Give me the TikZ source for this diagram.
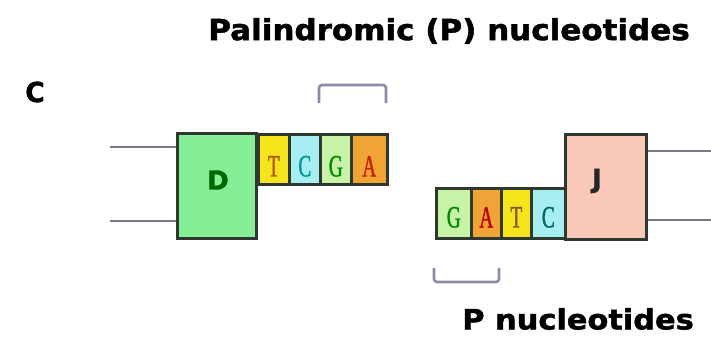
\documentclass[tikz,border=0pt]{standalone}
\usepackage{fontspec}
\setmainfont{DejaVu Sans}
\newfontfamily\seriff[FakeStretch=0.62,FakeBold=1.2]{Liberation Serif}
\newfontfamily\heavyfont[FakeBold=1.5]{DejaVu Sans Bold}
\definecolor{strandc}{HTML}{7A7A88}
\definecolor{edgec}{HTML}{2E382E}
\definecolor{dfill}{HTML}{86EE96}
\definecolor{jfill}{HTML}{F8C8B8}
\definecolor{tfill}{HTML}{F6E41C}
\definecolor{cfill}{HTML}{A6EEF2}
\definecolor{gfill}{HTML}{C8F2A8}
\definecolor{afill}{HTML}{F0A436}
\definecolor{brc}{HTML}{8C8CA6}
\tikzset{
  strand/.style={draw=strandc, line width=2.4pt},
  seg/.style={draw=edgec, line width=2.6pt},
  nt/.style={seg, minimum width=31pt, minimum height=50pt, inner sep=0pt, anchor=north west},
  ntl/.style={font=\seriff\fontsize{31}{31}\selectfont, inner sep=0pt},
  gene/.style={font=\heavyfont\fontsize{26}{26}\selectfont, inner sep=0pt},
  brk/.style={draw=brc, line width=2.6pt, rounded corners=3pt},
  lab/.style={font=\heavyfont, inner sep=0pt}
}
\begin{document}
\begin{tikzpicture}[x=1pt,y=-1pt]
\useasboundingbox (0,0) rectangle (711,337);
% title
\node[lab, anchor=center] (title) at (449,31) {\scalebox{1.55}[1.45]{\fontsize{20}{20}\selectfont Palindromic (P) nucleotides}};
\node[lab, anchor=center] (C) at (35,92) {\scalebox{1.1}[1.15]{\fontsize{24}{24}\selectfont C}};
% left strands
\coordinate (l1) at (110,147);
\coordinate (l2) at (110,221);
\node[seg, fill=dfill, minimum width=79pt, minimum height=105pt, inner sep=0pt, anchor=north west] (D) at (176,132) {};
\draw[strand] (l1) -- (l1 -| D.west);
\draw[strand] (l2) -- (l2 -| D.west);
\node[gene, text=green!40!black] at (218,180) {D};
% left nucleotides
\node[nt, fill=tfill] (t1) at (257,133) {};
\node[nt, fill=cfill] (c1) at (288,133) {};
\node[nt, fill=gfill] (g1) at (319,133) {};
\node[nt, fill=afill, minimum width=36pt] (a1) at (350,133) {};
\node[ntl, text=orange!70!black] at ([yshift=-7pt]t1.center) {T};
\node[ntl, text=teal!80!cyan] at ([yshift=-7pt]c1.center) {C};
\node[ntl, text=green!55!black] at ([yshift=-7pt]g1.center) {G};
\node[ntl, text=red!70!orange!80!black] at ([yshift=-7pt]a1.center) {A};
% top bracket
\coordinate (b1) at (319,103);
\coordinate (b2) at (386,103);
\draw[brk] (b1) -- ++(0,-18) -| (b2);
% right side
\node[seg, fill=jfill, minimum width=81pt, minimum height=105pt, inner sep=0pt, anchor=north west] (J) at (564,133) {};
\coordinate (r1) at (711,151);
\coordinate (r2) at (711,220);
\draw[strand] (r1 -| J.east) -- (r1);
\draw[strand] (r2 -| J.east) -- (r2);
\node[gene, text=black!85] at (597,181) {J};
\node[nt, fill=gfill, minimum width=35pt] (g2) at (435,187) {};
\node[nt, fill=afill, minimum width=30pt] (a2) at (470,187) {};
\node[nt, fill=tfill, minimum width=30pt] (t2) at (500,187) {};
\node[nt, fill=cfill, minimum width=34pt] (c2) at (530,187) {};
\node[ntl, text=green!55!black] at ([yshift=-4pt]g2.center) {G};
\node[ntl, text=red!75!black] at ([yshift=-4pt]a2.center) {A};
\node[ntl, text=brown!70!black] at ([yshift=-4pt]t2.center) {T};
\node[ntl, text=teal!80!black] at ([yshift=-4pt]c2.center) {C};
% bottom bracket
\coordinate (b3) at (434,268);
\coordinate (b4) at (499,268);
\draw[brk] (b3) -- ++(0,14) -| (b4);
\node[lab, anchor=center] (pn) at (578,319) {\scalebox{1.52}[1.4]{\fontsize{20}{20}\selectfont P nucleotides}};
\end{tikzpicture}
\end{document}
